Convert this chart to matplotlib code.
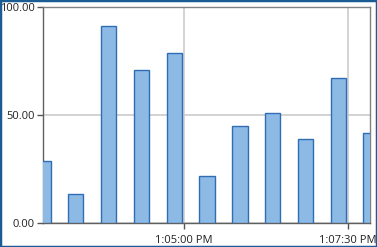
import matplotlib
matplotlib.use("Agg")
import matplotlib.pyplot as plt
import matplotlib.dates as mdates
from matplotlib.patches import Rectangle
from matplotlib.ticker import FuncFormatter
import pandas as pd

times = ["13:02:51", "13:03:21", "13:03:51", "13:04:21", "13:04:51", "13:05:21",
         "13:05:51", "13:06:21", "13:06:51", "13:07:21", "13:07:51"]
values = [28.5, 13.3, 91.1, 70.7, 78.5, 21.5, 44.6, 50.7, 38.6, 66.9, 41.5]
x_ticks = ["13:05:00", "13:07:30"]
y_ticks = [0, 50, 100]
x_range = ["13:02:51", "13:07:50"]

day = "2024-01-01 "
t = mdates.date2num(pd.to_datetime([day + s for s in times]))
xt = mdates.date2num(pd.to_datetime([day + s for s in x_ticks]))
xr = mdates.date2num(pd.to_datetime([day + s for s in x_range]))

plt.rcParams['font.family'] = ['Open Sans', 'DejaVu Sans']

W, H = 377, 247
fig = plt.figure(figsize=(W / 100, H / 100), dpi=100)
ax = fig.add_axes([43 / W, 1 - 222.7 / H, (370 - 43) / W, (222.7 - 7) / H])

ax.bar(t, values, width=14 / 86400, color='#8db9e5', edgecolor='#2f6db5',
       linewidth=1.0, zorder=3)

ax.set_xlim(xr[0], xr[1])
ax.set_ylim(0, 100)
ax.set_yticks(y_ticks)
ax.yaxis.set_major_formatter(FuncFormatter(lambda v, p: f"{v:.2f}"))
ax.set_xticks(xt)


def fmt(v, p):
    d = mdates.num2date(v)
    return d.strftime('%I:%M:%S %p').lstrip('0')


ax.xaxis.set_major_formatter(FuncFormatter(fmt))
ax.grid(True, color='#cccccc', linewidth=1.2, zorder=0)
ax.set_axisbelow(True)
ax.tick_params(axis='both', length=4, width=1, color='#555555', labelsize=8,
               labelcolor='#222222')
ax.tick_params(axis='y', pad=2)
ax.tick_params(axis='x', pad=5)
for side in ['left', 'bottom']:
    ax.spines[side].set_color('#606060')
for side in ['top', 'right']:
    ax.spines[side].set_color('#808080')
for s in ax.spines.values():
    s.set_linewidth(1.0)

fig.patches.append(Rectangle((0, 0), 1, 1, transform=fig.transFigure,
                             fill=False, edgecolor='#1c5c94', linewidth=2.5,
                             zorder=10))

fig.savefig("out.png", dpi=100)
